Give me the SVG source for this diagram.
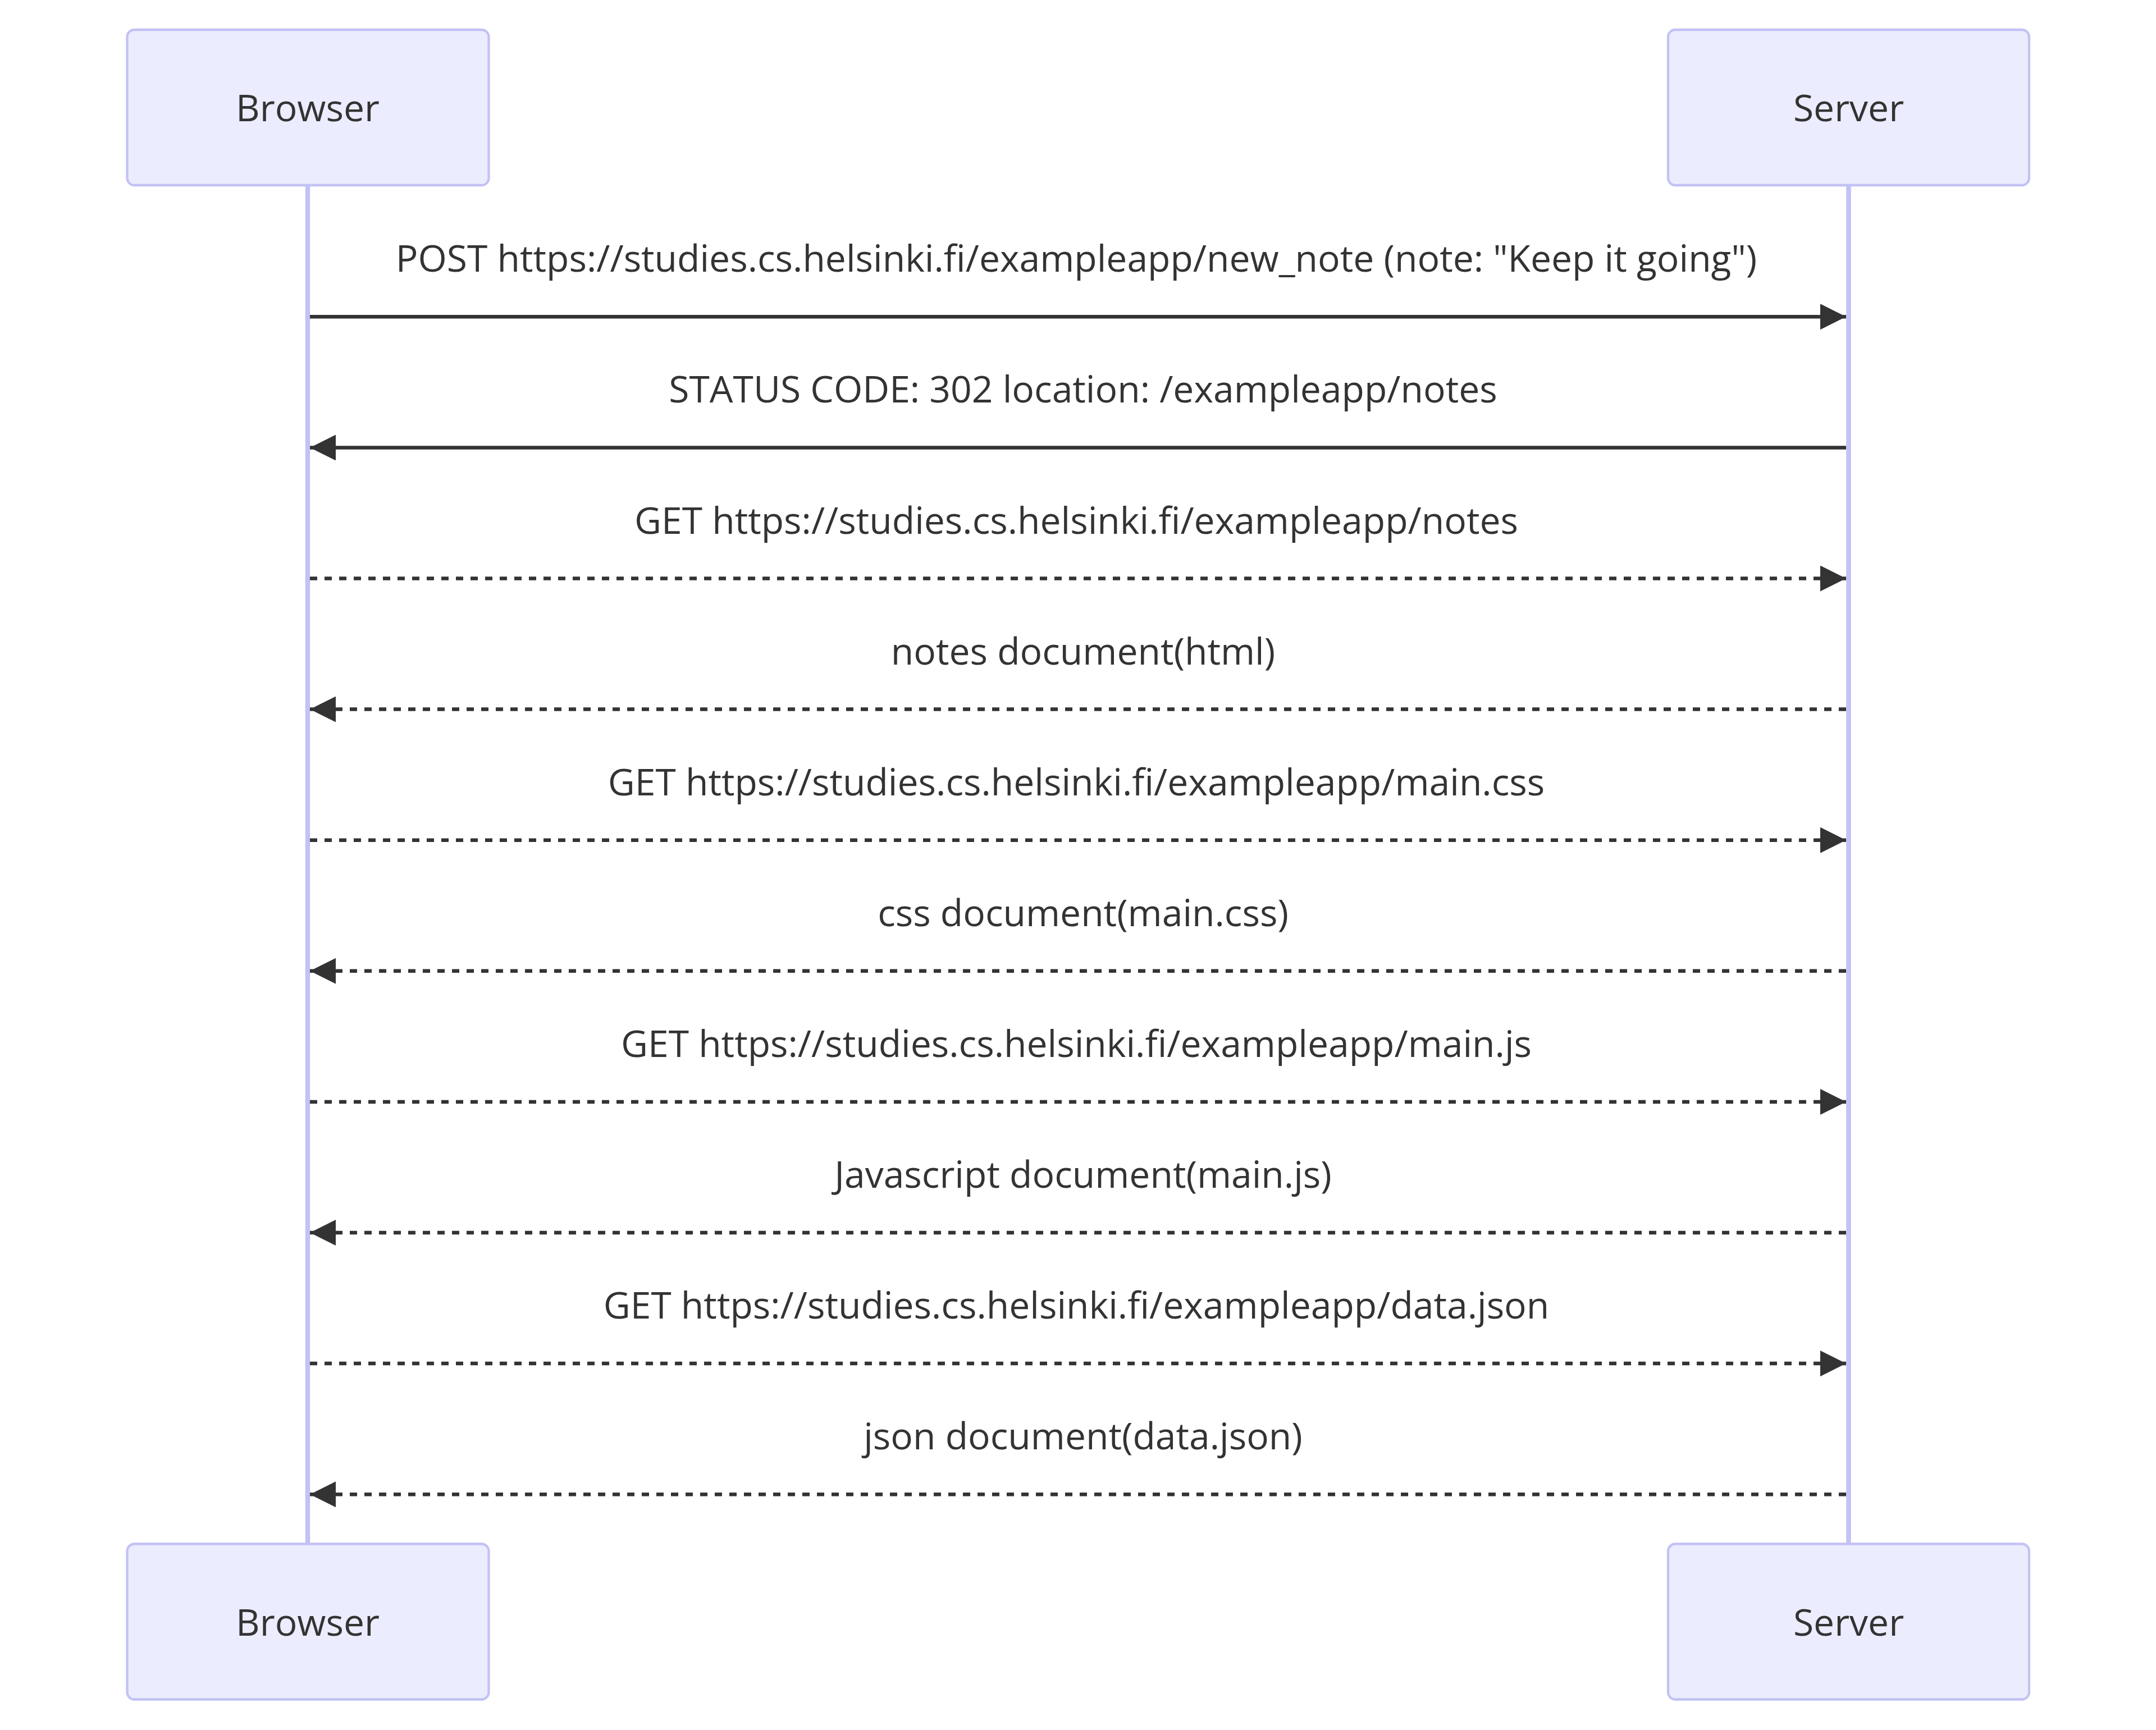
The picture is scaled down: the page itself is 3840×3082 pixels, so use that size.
<svg xmlns="http://www.w3.org/2000/svg" width="3840" height="3082" viewBox="0 0 3840 3082">
<style>
.actor{fill:#ECECFF;stroke:#C2C2F5;stroke-width:4.3}
.actor-line{stroke:#C2C2F5;stroke-width:8.5}
.actor-text{font-family:"Open Sans","Noto Sans",sans-serif;font-size:66px;fill:#333;text-anchor:middle}
.msg-text{font-family:"Open Sans","Noto Sans",sans-serif;font-size:66px;fill:#333;text-anchor:middle}
.msg{stroke:#333;stroke-width:6.5;fill:none;marker-end:url(#arrowhead)}
.dotted{stroke-dasharray:13,13}
</style>
<defs>
<marker id="arrowhead" viewBox="0 0 10 10" refX="10" refY="5" markerUnits="userSpaceOnUse" markerWidth="46" markerHeight="46" orient="auto">
<path d="M0,0 L10,5 L0,10 z" fill="#333"/>
</marker>
</defs>
<rect x="0" y="0" width="3840" height="3082" fill="#ffffff"/>
<g id="lifelines">
<line class="actor-line" x1="548" y1="332" x2="548" y2="2749"/>
<line class="actor-line" x1="3292.5" y1="332" x2="3292.5" y2="2749"/>
</g>
<g id="browser-top">
<rect class="actor" x="226.5" y="53" width="644" height="277" rx="13"/>
<text class="actor-text" x="548" y="216">Browser</text>
</g>
<g id="server-top">
<rect class="actor" x="2971" y="53" width="643" height="277" rx="13"/>
<text class="actor-text" x="3292.5" y="216">Server</text>
</g>
<g id="browser-bottom">
<rect class="actor" x="226.5" y="2750.5" width="644" height="277" rx="13"/>
<text class="actor-text" x="548" y="2914">Browser</text>
</g>
<g id="server-bottom">
<rect class="actor" x="2971" y="2750.5" width="643" height="277" rx="13"/>
<text class="actor-text" x="3292.5" y="2914">Server</text>
</g>
<g id="connectors">
<line class="msg" x1="552" y1="564.3" x2="3288" y2="564.3"/>
<line class="msg" x1="3288" y1="797.4" x2="552" y2="797.4"/>
<line class="msg dotted" x1="552" y1="1030.5" x2="3288" y2="1030.5"/>
<line class="msg dotted" x1="3288" y1="1263.6" x2="552" y2="1263.6"/>
<line class="msg dotted" x1="552" y1="1496.7" x2="3288" y2="1496.7"/>
<line class="msg dotted" x1="3288" y1="1729.8" x2="552" y2="1729.8"/>
<line class="msg dotted" x1="552" y1="1962.9" x2="3288" y2="1962.9"/>
<line class="msg dotted" x1="3288" y1="2196" x2="552" y2="2196"/>
<line class="msg dotted" x1="552" y1="2429.1" x2="3288" y2="2429.1"/>
<line class="msg dotted" x1="3288" y1="2662.2" x2="552" y2="2662.2"/>
</g>
<g id="labels">
<text class="msg-text" x="1917" y="484.3">POST https://studies.cs.helsinki.fi/exampleapp/new_note (note: "Keep it going")</text>
<text class="msg-text" x="1929" y="717.4">STATUS CODE: 302 location: /exampleapp/notes</text>
<text class="msg-text" x="1917" y="950.5">GET https://studies.cs.helsinki.fi/exampleapp/notes</text>
<text class="msg-text" x="1929" y="1183.6">notes document(html)</text>
<text class="msg-text" x="1917" y="1416.7">GET https://studies.cs.helsinki.fi/exampleapp/main.css</text>
<text class="msg-text" x="1929" y="1649.8">css document(main.css)</text>
<text class="msg-text" x="1917" y="1882.9">GET https://studies.cs.helsinki.fi/exampleapp/main.js</text>
<text class="msg-text" x="1929" y="2116">Javascript document(main.js)</text>
<text class="msg-text" x="1917" y="2349.1">GET https://studies.cs.helsinki.fi/exampleapp/data.json</text>
<text class="msg-text" x="1929" y="2582.2">json document(data.json)</text>
</g>
</svg>
